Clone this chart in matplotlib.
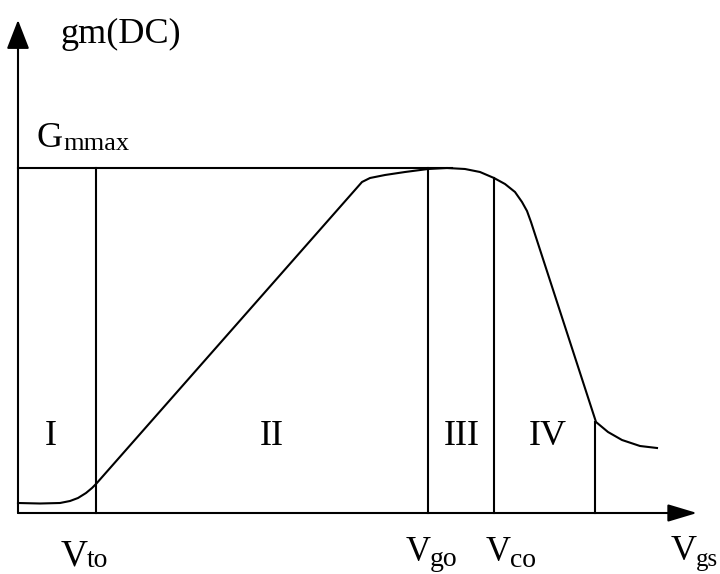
import matplotlib.pyplot as plt

plt.rcParams['font.family'] = ['Liberation Serif', 'DejaVu Serif']

# gm(DC) vs Vgs sketch, coordinates in picture units (y grows downward)
curve_x = [18, 40, 60, 70, 78, 86, 92, 96, 362, 370, 385, 405, 428, 447, 465,
           480, 494, 505, 515, 522, 527, 531, 596, 608, 622, 640, 657]
curve_y = [503, 503.5, 503, 501, 498, 493, 488, 484, 182, 178, 175, 172, 169, 168, 169,
           172, 178, 184, 192, 202, 211, 222, 422, 432, 440, 446, 448]

axis_origin = (18, 513)
y_axis_top = 20
x_axis_end = 697

gmax_level = 168
gmax_end = 452

vline_x = [96, 428, 494, 595]
vline_top = [168, 168, 178, 422]

region_names = ['I', 'II', 'III', 'IV']
region_x = [51, 272, 462, 548]
region_y = 445

fig = plt.figure(figsize=(7.2, 5.74), dpi=100)
ax = fig.add_axes([0, 0, 1, 1])
ax.set_xlim(0, 720)
ax.set_ylim(574, 0)
ax.axis('off')

lw = 1.5
ox, oy = axis_origin

# axes with arrows
ax.annotate('', xy=(ox, y_axis_top), xytext=(ox, oy),
            arrowprops=dict(arrowstyle='-|>,head_length=0.9,head_width=0.35',
                            mutation_scale=20, lw=lw, color='black',
                            shrinkA=0, shrinkB=0))
ax.annotate('', xy=(x_axis_end, oy), xytext=(ox, oy),
            arrowprops=dict(arrowstyle='-|>,head_length=0.9,head_width=0.27',
                            mutation_scale=20, lw=lw, color='black',
                            shrinkA=0, shrinkB=0))

# Gmmax level
ax.plot([ox, gmax_end], [gmax_level, gmax_level], color='black', lw=lw)

# region boundaries
for x, top in zip(vline_x, vline_top):
    ax.plot([x, x], [top, oy], color='black', lw=lw)

# the curve
ax.plot(curve_x, curve_y, color='black', lw=lw, solid_joinstyle='round')

# region names
for name, x in zip(region_names, region_x):
    ax.text(x, region_y, name, fontsize=26, ha='center', va='baseline')

# axis labels
ax.text(60, 43, 'gm(DC)', fontsize=26, ha='left', va='baseline')
ax.text(37, 147, 'G', fontsize=26, ha='left', va='baseline')
ax.text(63, 150, 'mmax', fontsize=19, ha='left', va='baseline')

# bottom labels: main letter, subscript
ax.text(61, 566, 'V', fontsize=27, ha='left', va='baseline')
ax.text(87, 567, 'to', fontsize=20, ha='left', va='baseline')
ax.text(406, 561, 'V', fontsize=25, ha='left', va='baseline')
ax.text(430, 566, 'go', fontsize=20, ha='left', va='baseline')
ax.text(486, 561, 'V', fontsize=25, ha='left', va='baseline')
ax.text(510, 567, 'co', fontsize=20, ha='left', va='baseline')
ax.text(671, 560, 'V', fontsize=26, ha='left', va='baseline')
ax.text(696, 566, 'gs', fontsize=18, ha='left', va='baseline')

fig.savefig('out.png', dpi=100)
